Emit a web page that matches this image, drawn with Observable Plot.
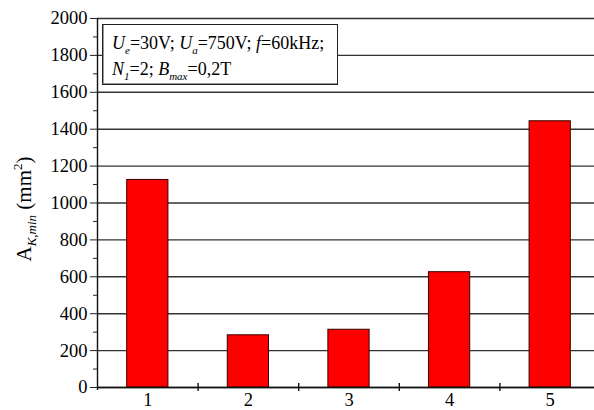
<!DOCTYPE html>
<html>
<head>
<meta charset="utf-8">
<script src="https://cdn.jsdelivr.net/npm/d3@7"></script>
<script src="https://cdn.jsdelivr.net/npm/@observablehq/plot@0.6"></script>
<style>
  body { margin: 0; background: white; }
  #wrap { position: relative; width: 594px; height: 410px; font-family: "Liberation Serif", "Times New Roman", serif; }
  #wrap svg, #wrap svg g, #wrap svg text { font-family: "Liberation Serif", "Times New Roman", serif !important; }
  #box {
    position: absolute; left: 102px; top: 24px; width: 236px; height: 61px; box-sizing: border-box;
    border: 1px solid #222; box-shadow: inset 1px -1px 0 #999; background: white;
    font-size: 18px; line-height: 26px; padding: 5px 0 0 9px; color: black; white-space: nowrap;
  }
  #box sub { font-size: 11px; vertical-align: -5px; font-style: italic; line-height: 0; }
</style>
</head>
<body>
<div id="wrap"></div>
<script>
const categories = [1, 2, 3, 4, 5];
const values = [1125, 283, 313, 625, 1443];
const yTicks = [0, 200, 400, 600, 800, 1000, 1200, 1400, 1600, 1800, 2000];
const yMinorTicks = [100, 300, 500, 700, 900, 1100, 1300, 1500, 1700, 1900];
const xBoundaryTicks = [1.5, 2.5, 3.5, 4.5];
const barHalfWidth = 0.205;
const serif = "'Liberation Serif', 'Times New Roman', serif";

const data = categories.map((c, i) => ({cat: c, value: values[i]}));

const chart = Plot.plot({
  width: 594,
  height: 410,
  marginLeft: 97,
  marginRight: 0,
  marginTop: 18,
  marginBottom: 23,
  style: {fontFamily: serif, fontSize: "18px", background: "white", color: "black", overflow: "visible"},
  x: {type: "linear", domain: [0.5, 5.5], range: [97, 600]},
  y: {domain: [0, 2000], range: [387, 18]},
  marks: [
    Plot.gridY(yTicks, {stroke: "#333", strokeOpacity: 1, strokeWidth: 1.4}),
    Plot.rectY(data, {x1: d => d.cat - barHalfWidth, x2: d => d.cat + barHalfWidth, y: "value", fill: "#ff0000", stroke: "#3a0000", strokeWidth: 1}),
    Plot.axisY(yTicks, {tickSize: 7, tickPadding: 3, stroke: "#222", label: null, tickFormat: d => String(d), fontSize: 18.5}),
    Plot.axisY(yMinorTicks, {tickSize: 4, tickFormat: () => "", stroke: "#222", label: null}),
    Plot.axisX(categories, {tickSize: 0, tickPadding: 5, tickFormat: d => String(d), label: null, fontSize: 18.5}),
    Plot.ruleY([0], {stroke: "#111", strokeWidth: 1.4}),
    Plot.ruleX([0.5], {y1: -16, y2: 2000, stroke: "#111", strokeWidth: 1.4}),
    Plot.ruleX(xBoundaryTicks, {y1: -22, y2: 22, stroke: "#111", strokeWidth: 1.4})
  ]
});

const wrap = document.getElementById("wrap");
wrap.appendChild(chart);

// Y-axis title with subscript/superscript
const svg = d3.select(chart);
const t = svg.append("text")
  .attr("transform", "translate(31,209) rotate(-90)")
  .attr("text-anchor", "middle")
  .attr("font-size", 21)
  .attr("fill", "black");
t.append("tspan").text("A");
t.append("tspan").attr("font-size", 13).attr("font-style", "italic").attr("dy", 5).text("K,min");
t.append("tspan").attr("dy", -5).text("\u00a0(mm");
t.append("tspan").attr("font-size", 13).attr("dy", -9).text("2");
t.append("tspan").attr("dy", 9).text(")");

// Parameter box
const box = document.createElement("div");
box.id = "box";
box.innerHTML = '<i>U</i><sub>e</sub>=30V; <i>U</i><sub>a</sub>=750V; <i>f</i>=60kHz;<br><i>N</i><sub>1</sub>=2; <i>B</i><sub>max</sub>=0,2T';
wrap.appendChild(box);
</script>
</body>
</html>
